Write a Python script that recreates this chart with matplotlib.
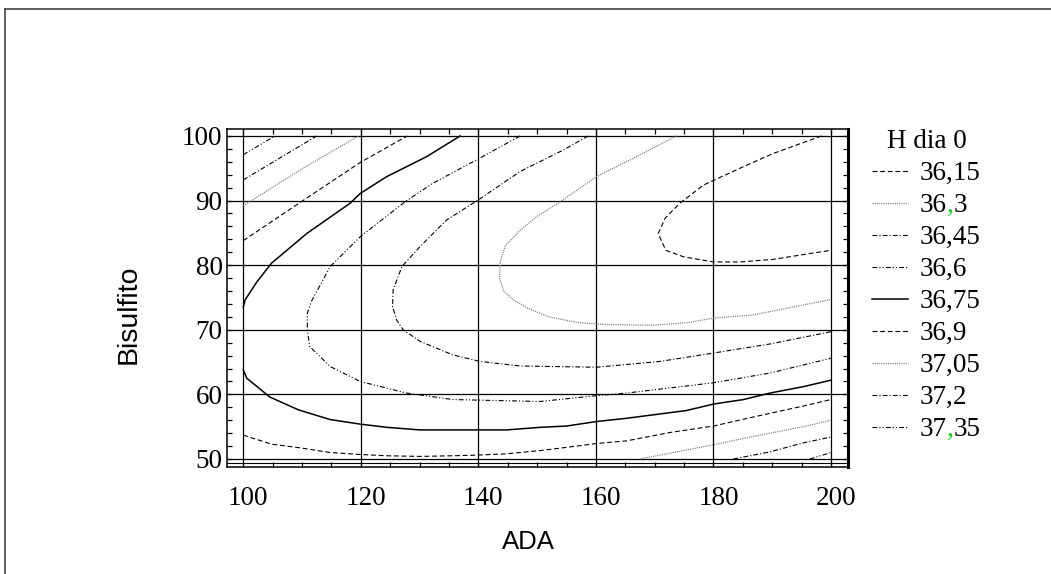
import matplotlib
matplotlib.use('Agg')
import matplotlib.pyplot as plt
from matplotlib.lines import Line2D
from matplotlib.ticker import MultipleLocator
from matplotlib.transforms import ScaledTranslation

plt.rcParams['lines.scale_dashes'] = False

# contour levels of "H dia 0" (legend order)
levels = ['36,15', '36,3', '36,45', '36,6', '36,75', '36,9', '37,05', '37,2', '37,35']

# contour paths (ADA, Bisulfito)
c3615_x = [198.4, 190.2, 184.5, 178.3, 174.3, 171.8, 170.6, 171.9, 174.9, 180.0, 184.5, 190.2, 196.4, 200.0]
c3615_y = [100.0, 97.3, 95.0, 92.4, 89.6, 87.3, 84.9, 82.3, 81.3, 80.5, 80.5, 80.9, 81.8, 82.3]

c3630_x = [173.7, 166.9, 160.1, 153.9, 149.9, 147.1, 144.6, 143.7, 143.6, 144.3, 146.0, 148.5, 152.0,
           157.0, 162.0, 169.8, 175.5, 180.0, 186.8, 200.0]
c3630_y = [100.0, 96.8, 93.7, 89.8, 87.5, 85.4, 83.0, 80.5, 78.0, 76.0, 74.6, 73.3, 72.0,
           71.1, 70.8, 70.7, 71.1, 71.8, 72.3, 74.7]

c3645_x = [158.7, 154.4, 147.1, 140.0, 134.6, 130.1, 127.0, 125.5, 125.4, 126.1, 127.2, 130.1, 135.7,
           140.3, 147.1, 160.1, 170.9, 180.0, 189.6, 200.0]
c3645_y = [100.0, 97.8, 94.5, 90.1, 87.0, 82.9, 79.8, 76.2, 73.6, 71.5, 70.0, 68.2, 66.1,
           65.1, 64.4, 64.2, 65.1, 66.4, 67.8, 69.7]

c3660_x = [147.1, 139.7, 132.3, 127.5, 119.9, 114.8, 111.7, 110.9, 110.9, 111.3, 114.8, 119.9, 127.8,
           135.7, 150.5, 160.1, 165.2, 180.0, 189.6, 200.0]
c3660_y = [100.0, 96.3, 92.7, 89.8, 84.4, 79.8, 74.6, 72.6, 70.0, 67.4, 64.3, 62.0, 60.2,
           59.2, 58.9, 59.8, 60.2, 61.8, 63.3, 65.6]

c3675_top_x = [136.9, 131.2, 124.4, 119.9, 118.2, 110.8, 104.8, 102.3, 100.3, 100.0]
c3675_top_y = [100.0, 96.8, 93.7, 91.1, 89.6, 84.9, 80.3, 77.4, 74.6, 73.5]
c3675_bot_x = [100.0, 100.6, 104.5, 109.4, 114.8, 119.9, 124.4, 130.1, 135.7, 144.8, 150.5, 155.0,
               160.1, 165.2, 175.4, 180.0, 185.1, 189.6, 195.3, 200.0]
c3675_bot_y = [63.8, 62.5, 59.6, 57.6, 56.1, 55.4, 54.9, 54.5, 54.5, 54.5, 54.9, 55.1,
               55.8, 56.3, 57.5, 58.5, 59.2, 60.2, 61.2, 62.2]

c3690_top_x = [100.0, 110.0, 119.9, 127.9]
c3690_top_y = [83.8, 89.9, 95.9, 100.0]
c3690_bot_x = [100.0, 104.8, 109.9, 114.8, 119.9, 124.4, 130.1, 135.7, 139.7, 144.8, 150.5, 155.0,
               160.1, 165.2, 172.6, 180.0, 186.8, 195.3, 200.0]
c3690_bot_y = [53.7, 52.3, 51.7, 51.0, 50.7, 50.5, 50.4, 50.5, 50.6, 50.8, 51.3, 51.8,
               52.4, 52.8, 54.1, 55.1, 56.5, 58.2, 59.2]

c3705_top_x = [100.0, 110.0, 119.6]
c3705_top_y = [89.2, 94.9, 100.0]
c3705_bot_x = [167.5, 172.6, 180.0, 186.8, 195.3, 200.0]
c3705_bot_y = [50.0, 50.9, 52.2, 53.5, 55.0, 56.0]

c3720_top_x = [100.0, 112.5]
c3720_top_y = [93.2, 100.0]
c3720_bot_x = [183.4, 189.6, 195.3, 200.0]
c3720_bot_y = [50.0, 51.1, 52.5, 53.4]

c3735_top_x = [100.0, 105.4]
c3735_top_y = [97.1, 100.0]
c3735_bot_x = [196.4, 200.0]
c3735_bot_y = [50.0, 51.0]

x_ticks = [100, 120, 140, 160, 180, 200]
y_ticks = [50, 60, 70, 80, 90, 100]

# line styles cycle like the original program: dash, dot, dash-dot, dash-dot-dot, solid
dash = (0, (3.5, 2.0))
dot = (0, (0.8, 0.8))
dashdot = (0, (3.5, 1.5, 0.8, 1.5))
dashdotdot = (0, (3.5, 1.5, 0.8, 1.5, 0.8, 1.5))
styles = [dash, dot, dashdot, dashdotdot, '-', dash, dot, dashdot, dashdotdot]

def style_of(i):
    ls = styles[i]
    if ls == dot:
        return dict(ls=ls, color='#7a7a7a', lw=0.9)
    if ls == '-':
        return dict(ls=ls, color='black', lw=1.1)
    return dict(ls=ls, color='black', lw=0.8)

paths = [
    [(c3615_x, c3615_y)],
    [(c3630_x, c3630_y)],
    [(c3645_x, c3645_y)],
    [(c3660_x, c3660_y)],
    [(c3675_top_x, c3675_top_y), (c3675_bot_x, c3675_bot_y)],
    [(c3690_top_x, c3690_top_y), (c3690_bot_x, c3690_bot_y)],
    [(c3705_top_x, c3705_top_y), (c3705_bot_x, c3705_bot_y)],
    [(c3720_top_x, c3720_top_y), (c3720_bot_x, c3720_bot_y)],
    [(c3735_top_x, c3735_top_y), (c3735_bot_x, c3735_bot_y)],
]

# two labels whose comma shows up green in the reference
green_comma = {'36,3', '37,35'}

serif = 'Liberation Serif'
fs = 19.5

fig = plt.figure(figsize=(10.51, 5.74), dpi=100)
ax = fig.add_axes([0.2157, 0.1864, 0.5914, 0.5889])

handles = []
for i, segs in enumerate(paths):
    st = style_of(i)
    for k, (xs, ys) in enumerate(segs):
        ln, = ax.plot(xs, ys, **st)
        if k == 0:
            handles.append(ln)

ax.set_xlim(97.18, 202.94)
ax.set_ylim(48.76, 101.08)
ax.set_xticks(x_ticks)
ax.set_yticks(y_ticks)
ax.xaxis.set_minor_locator(MultipleLocator(5))
ax.yaxis.set_minor_locator(MultipleLocator(2))
ax.grid(True, which='major', color='black', lw=0.9)
ax.axhline(49.38, color='black', lw=0.8)
ax.tick_params(which='both', direction='in', length=3.6, width=0.9,
               top=True, right=True, labelsize=fs)
ax.tick_params(axis='x', pad=14)
ax.tick_params(axis='y', pad=3)
for lbl in ax.get_xticklabels() + ax.get_yticklabels():
    lbl.set_fontfamily(serif)
for lbl in ax.get_xticklabels():
    lbl.set_transform(lbl.get_transform() + ScaledTranslation(0.05, 0, fig.dpi_scale_trans))
for s in ax.spines.values():
    s.set_linewidth(1.1)
ax.spines['right'].set_linewidth(2.2)

ax.set_xlabel('ADA', fontsize=18.5, family='Liberation Sans')
ax.xaxis.set_label_coords(0.485, -0.222)
ax.xaxis.label.set_va('center')
ax.set_ylabel('Bisulfito', fontsize=20.5, family='Liberation Sans')
ax.yaxis.set_label_coords(-0.157, 0.453)
ax.yaxis.label.set_va('center')

# the split labels get their comma and tail added after drawing
leg_labels = [s.split(',')[0] if s in green_comma else s for s in levels]
leg = ax.legend(handles, leg_labels, loc='upper left',
                bbox_to_anchor=(872 / 1051, 1 - 129 / 574), bbox_transform=fig.transFigure,
                frameon=False, title='H dia 0', prop={'family': serif, 'size': fs},
                title_fontproperties={'family': serif, 'size': fs},
                handlelength=1.33, handletextpad=0.44, labelspacing=0.26,
                borderpad=0, borderaxespad=0)

# outer frame of the original window (top and left edges only)
fig.add_artist(Line2D([5 / 1051, 1], [1 - 9 / 574, 1 - 9 / 574], transform=fig.transFigure,
                      color='#444444', lw=1.2))
fig.add_artist(Line2D([5 / 1051, 5 / 1051], [0, 1 - 9 / 574], transform=fig.transFigure,
                      color='#444444', lw=1.2))

fig.canvas.draw()
renderer = fig.canvas.get_renderer()
W, H = fig.bbox.width, fig.bbox.height
for t, full in zip(leg.get_texts(), levels):
    if full not in green_comma:
        continue
    head, tail = full.split(',')
    x0, y0 = t.get_transform().transform(t.get_position())
    xe = t.get_window_extent(renderer).x1
    c = fig.text(xe / W, y0 / H, ',', family=serif, size=fs, color='#22cc22',
                 ha='left', va='baseline')
    xc = c.get_window_extent(renderer).x1
    fig.text(xc / W, y0 / H, tail, family=serif, size=fs, color='black',
             ha='left', va='baseline')

fig.savefig('out.png', dpi=100)
